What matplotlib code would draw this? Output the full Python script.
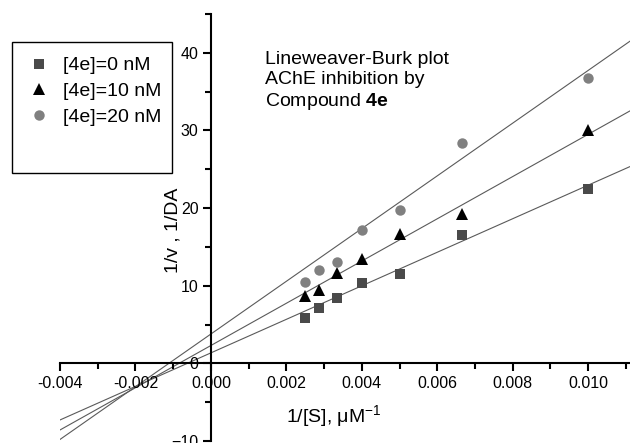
import numpy as np
import matplotlib
matplotlib.use("Agg")
import matplotlib.pyplot as plt
from matplotlib.patches import Rectangle
from matplotlib.ticker import MultipleLocator

plt.rcParams['font.family'] = ['Liberation Sans', 'DejaVu Sans']
plt.rcParams['mathtext.fontset'] = 'custom'
plt.rcParams['mathtext.rm'] = 'Liberation Sans'
plt.rcParams['mathtext.bf'] = 'Liberation Sans:bold'

# 1/[S] values (uM^-1)
inv_s = [0.0025, 0.002857, 0.003333, 0.004, 0.005, 0.006667, 0.010]
# 1/v for each inhibitor concentration
v_0nM = [5.8, 7.1, 8.4, 10.3, 11.5, 16.5, 22.5]
v_10nM = [8.7, 9.5, 11.6, 13.5, 16.6, 19.3, 30.0]
v_20nM = [10.5, 12.0, 13.1, 17.2, 19.8, 28.4, 36.7]
labels = ["[4e]=0 nM", "[4e]=10 nM", "[4e]=20 nM"]
# regression lines as drawn in the figure (slope, intercept)
fit_slope = [2160, 2720, 3395]
fit_intercept = [1.35, 2.3, 3.78]

fig = plt.figure(figsize=(6.3, 4.43), dpi=100)
ax = fig.add_axes([60/630, 1 - 441/443, 570/630, 427/443])

xlim = (-0.004, 0.01111)
ax.set_xlim(*xlim)
ax.set_ylim(-10, 45)

series = [
    (v_0nM, 's', '#4a4a4a', 6.5),
    (v_10nM, '^', 'black', 8),
    (v_20nM, 'o', '#808080', 7.5),
]
xx = np.array(xlim)
handles = []
for i, (ys, mk, col, ms) in enumerate(series):
    ax.plot(xx, fit_slope[i] * xx + fit_intercept[i], color='#5a5a5a', lw=0.8, zorder=1)
    h, = ax.plot(inv_s, ys, linestyle='none', marker=mk, color=col,
                 markersize=ms, markeredgewidth=0, zorder=3)
    handles.append(h)

# spines through the origin
ax.spines['left'].set_position(('data', 0))
ax.spines['bottom'].set_position(('data', 0))
ax.spines['top'].set_visible(False)
ax.spines['right'].set_visible(False)
for s in ('left', 'bottom'):
    ax.spines[s].set_linewidth(1.5)

ax.xaxis.set_minor_locator(MultipleLocator(0.001))
ax.yaxis.set_major_locator(MultipleLocator(10))
ax.yaxis.set_minor_locator(MultipleLocator(5))
xt = np.arange(-0.004, 0.0101, 0.002)
ax.set_xticks(xt)
ax.set_xticklabels(["%.3f" % t for t in xt])
ax.tick_params(which='major', direction='out', length=6, width=1.5, labelsize=11.5, pad=3)
ax.tick_params(which='minor', direction='out', length=4, width=1.5)

ax.set_xlabel("1/[S], μM$^{-1}$", fontsize=14)
ax.xaxis.set_label_coords(0.48, 0.087)
ax.set_ylabel("1/v , 1/DA", fontsize=14)
ax.yaxis.set_label_coords(0.214, 0.494)

ax.text(265, 443 - 51, "Lineweaver-Burk plot\nAChE inhibition by\nCompound $\\mathbf{4e}$",
        transform=None, fontsize=14, va='top', ha='left', linespacing=1.2)

# legend with a larger box than its entries
fig.patches.append(Rectangle((12/630, 1 - 173/443), 160/630, 131/443,
                             transform=fig.transFigure, fill=False,
                             edgecolor='black', lw=1.0))
fig.legend(handles, labels, loc='upper left', bbox_to_anchor=(20/630, 1 - 49/443),
           frameon=False, fontsize=14, handletextpad=0.6, handlelength=1.2,
           labelspacing=0.42, borderaxespad=0)

fig.savefig("out.png", dpi=100)
